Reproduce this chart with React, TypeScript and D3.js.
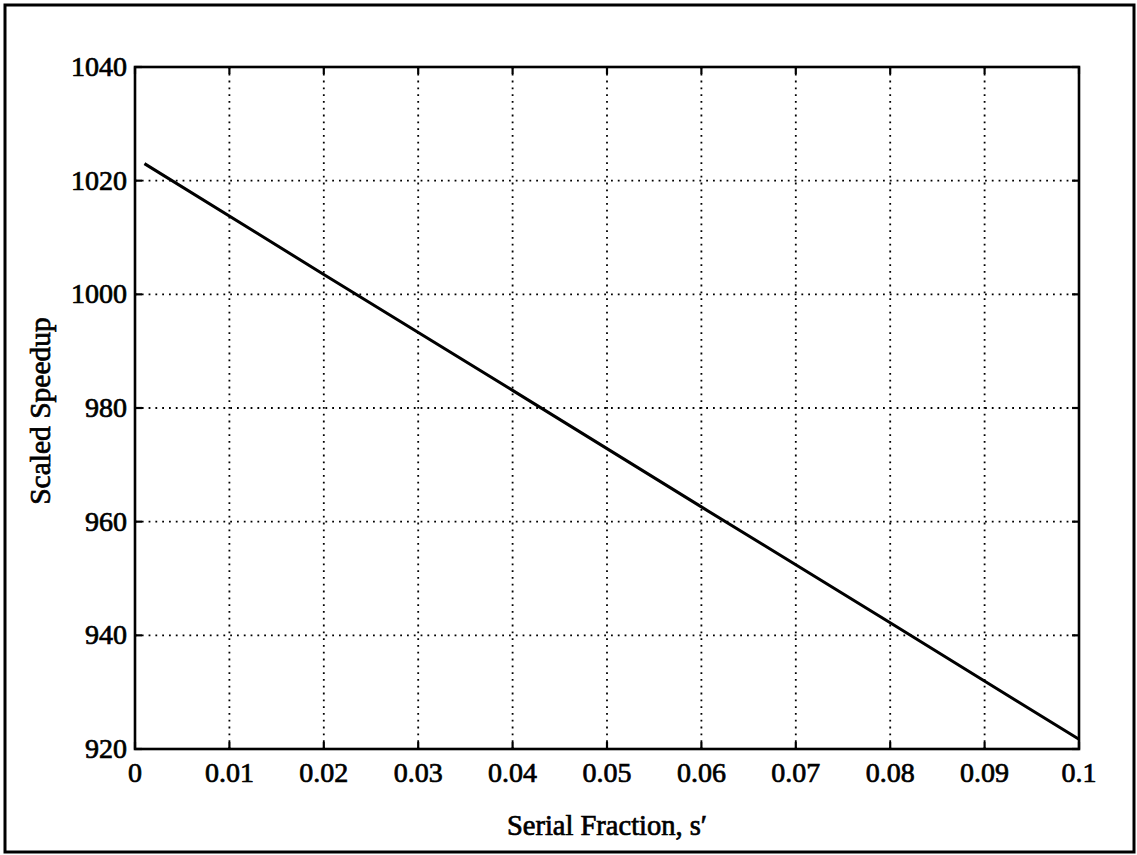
import React from "react";
import * as d3 from "d3";

// Scaled speedup vs. serial fraction (N = 1024 processors)
const serialFraction = [0.001, 0.02, 0.04, 0.06, 0.08, 0.1];
const scaledSpeedup = [1023.0, 1003.5, 983.1, 962.6, 942.2, 921.7];

const xTicks = [0, 0.01, 0.02, 0.03, 0.04, 0.05, 0.06, 0.07, 0.08, 0.09, 0.1];
const xTickLabels = ["0", "0.01", "0.02", "0.03", "0.04", "0.05", "0.06", "0.07", "0.08", "0.09", "0.1"];
const yTicks = [920, 940, 960, 980, 1000, 1020, 1040];

const W = 1137;
const H = 855;
const plot = { left: 135, top: 67, right: 1079, bottom: 749 };
const FONT = "'Liberation Serif', 'Times New Roman', serif";

export default function App() {
  const x = d3.scaleLinear().domain([0, 0.1]).range([plot.left, plot.right]);
  const y = d3.scaleLinear().domain([920, 1040]).range([plot.bottom, plot.top]);
  const pts: [number, number][] = serialFraction.map((s, i) => [s, scaledSpeedup[i]]);
  const line = d3
    .line<[number, number]>()
    .x((d) => x(d[0]))
    .y((d) => y(d[1]));
  const tickLen = 7;

  return (
    <svg
      width={W}
      height={H}
      style={{ position: "absolute", left: 0, top: 0, background: "#fff" }}
      fontFamily={FONT}
    >
      <rect x={0} y={0} width={W} height={H} fill="#fff" />
      {/* outer frame */}
      <rect x={5} y={5} width={1129} height={847} fill="none" stroke="#000" strokeWidth={3} />

      {/* grid */}
      <g stroke="#000" strokeWidth={1.8} strokeDasharray="1.8,5" fill="none">
        {xTicks.slice(1, -1).map((t) => (
          <line key={"gx" + t} x1={x(t)} x2={x(t)} y1={plot.top} y2={plot.bottom} />
        ))}
        {yTicks.slice(1, -1).map((t) => (
          <line key={"gy" + t} x1={plot.left} x2={plot.right} y1={y(t)} y2={y(t)} />
        ))}
      </g>

      {/* tick marks on all four sides */}
      <g stroke="#000" strokeWidth={2.2}>
        {xTicks.map((t) => (
          <g key={"tx" + t}>
            <line x1={x(t)} x2={x(t)} y1={plot.bottom} y2={plot.bottom - tickLen} />
            <line x1={x(t)} x2={x(t)} y1={plot.top} y2={plot.top + tickLen} />
          </g>
        ))}
        {yTicks.map((t) => (
          <g key={"ty" + t}>
            <line x1={plot.left} x2={plot.left + tickLen} y1={y(t)} y2={y(t)} />
            <line x1={plot.right} x2={plot.right - tickLen} y1={y(t)} y2={y(t)} />
          </g>
        ))}
      </g>

      {/* data line */}
      <path d={line(pts) || ""} fill="none" stroke="#000" strokeWidth={3} />

      {/* axes box */}
      <rect
        x={plot.left}
        y={plot.top}
        width={plot.right - plot.left}
        height={plot.bottom - plot.top}
        fill="none"
        stroke="#000"
        strokeWidth={2.6}
      />

      <g fill="#000" stroke="#000" strokeWidth={0.7}>
        {/* tick labels */}
        <g fontSize={28}>
          {xTicks.map((t, i) => (
            <text key={"lx" + t} x={x(t)} y={782} textAnchor="middle">
              {xTickLabels[i]}
            </text>
          ))}
          {yTicks.map((t) => (
            <text key={"ly" + t} x={127} y={y(t) + 9} textAnchor="end">
              {t}
            </text>
          ))}
        </g>

        {/* axis titles */}
        <text x={(plot.left + plot.right) / 2} y={835} textAnchor="middle" fontSize={28.5}>
          Serial Fraction, s′
        </text>
        <text
          transform={`translate(50, ${(plot.top + plot.bottom) / 2 + 3}) rotate(-90)`}
          textAnchor="middle"
          fontSize={29.5}
        >
          Scaled Speedup
        </text>
      </g>
    </svg>
  );
}
